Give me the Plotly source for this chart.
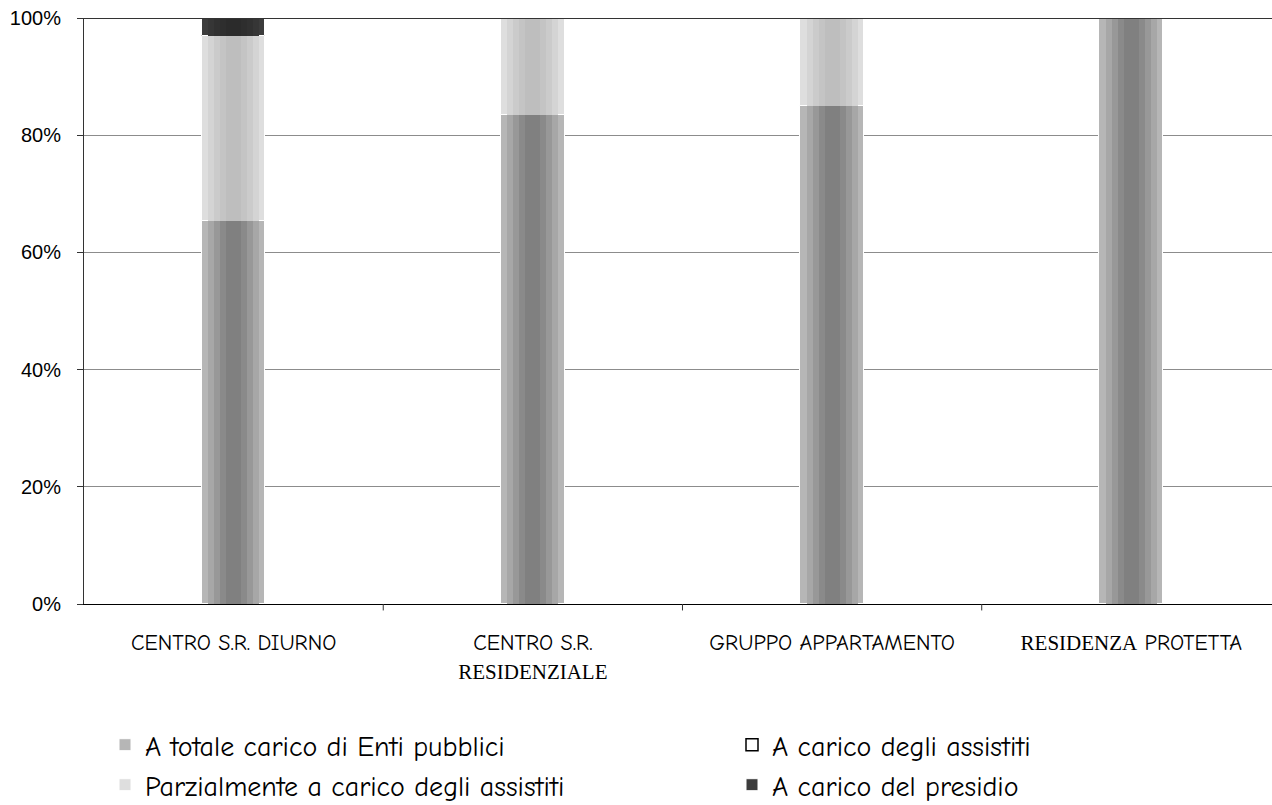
import numpy as np
import plotly.graph_objects as go

# Strutture e ripartizione percentuale degli oneri
categorie = [
    "CENTRO S.R. DIURNO",
    "CENTRO S.R.<br><span style='font-family:Liberation Serif;font-size:21px'>RESIDENZIALE</span>",
    "GRUPPO APPARTAMENTO",
    "<span style='font-family:Liberation Serif;font-size:21px'>RESIDENZA</span> PROTETTA",
]
enti_pubblici = [65.3, 83.5, 85.0, 100.0]
parziale_assistiti = [31.6, 16.5, 15.0, 0.0]
carico_assistiti = [0.0, 0.0, 0.0, 0.0]
carico_presidio = [3.1, 0.0, 0.0, 0.0]
tick_percentuali = [0, 20, 40, 60, 80, 100]

# nome, valori, sfumatura (dal bordo al centro), legenda
serie = [
    ("A totale carico di Enti pubblici", enti_pubblici,
     ["#b6b6b6", "#a7a7a7", "#989898", "#8a8a8a", "#808080"], "legend"),
    ("Parzialmente a carico degli assistiti", parziale_assistiti,
     ["#dedede", "#d4d4d4", "#cbcbcb", "#c4c4c4", "#bebebe"], "legend2"),
    ("A carico degli assistiti", carico_assistiti,
     ["#ffffff"], "legend3"),
    ("A carico del presidio", carico_presidio,
     ["#3c3c3c", "#363636", "#313131", "#2e2e2e", "#2b2b2b"], "legend4"),
]

x = list(range(len(categorie)))
larghezze = [0.213, 0.17, 0.13, 0.09, 0.05]

fig = go.Figure()
base = np.zeros(len(categorie))
for nome, valori, colori, leg in serie:
    valori = np.array(valori)
    vuoto = nome == "A carico degli assistiti"
    for k, col in enumerate(colori):
        primo = k == 0
        fig.add_trace(go.Bar(
            x=x, y=valori, base=base, width=larghezze[k],
            name=nome, legend=leg, showlegend=primo,
            marker=dict(
                color=col,
                line=dict(color="#000000" if vuoto else ("#ffffff" if primo else col),
                          width=1.5 if vuoto else (1 if primo else 0)),
            ),
            hoverinfo="skip",
        ))
    base = base + valori

font_comic = "Comic Sans MS, Comic Neue, Open Sans, sans-serif"
font_leg = dict(family=font_comic, size=28, color="#000000")


def legenda(px_x, px_y):
    return dict(
        orientation="v", xref="container", yref="container",
        x=px_x / 1272, y=1 - px_y / 805, xanchor="left", yanchor="middle",
        font=font_leg, bgcolor="rgba(0,0,0,0)", itemclick=False,
    )


fig.update_layout(
    width=1272, height=805,
    margin=dict(l=84, r=0, t=18, b=201, autoexpand=False),
    paper_bgcolor="white", plot_bgcolor="white",
    barmode="overlay",
    bargap=0,
    font=dict(family="Liberation Sans, Arial, sans-serif", color="#000000"),
    xaxis=dict(
        type="linear",
        range=[-0.5, 3.47],
        tickvals=x, ticktext=categorie,
        ticks="", showgrid=False,
        showline=True, linecolor="#000000", linewidth=1,
        tickfont=dict(family=font_comic, size=22, color="#000000"),
        ticklabelstandoff=19,
        zeroline=False,
    ),
    yaxis=dict(
        range=[0, 100],
        tickvals=tick_percentuali,
        ticktext=[f"{v}%" for v in tick_percentuali],
        ticks="outside", ticklen=6, tickcolor="#333333",
        ticklabelstandoff=12,
        showline=True, linecolor="#333333", linewidth=1,
        showgrid=True, gridcolor="#8c8c8c", gridwidth=1,
        tickfont=dict(family="Liberation Sans, Arial, sans-serif", size=20, color="#000000"),
        zeroline=False,
    ),
    legend=legenda(105, 745),
    legend2=legenda(105, 785),
    legend3=legenda(732, 745),
    legend4=legenda(732, 785),
    showlegend=True,
)

# Linea superiore dell'area del grafico e divisori fra le categorie
fig.add_shape(type="line", xref="paper", yref="y", x0=0, x1=1, y0=100, y1=100,
              line=dict(color="#333333", width=2))
for b in [0.5, 1.5, 2.5]:
    fig.add_shape(type="line", xref="x", yref="paper", x0=b, x1=b, y0=0, y1=-0.011,
                  line=dict(color="#333333", width=1))

fig.write_html("out.html")
